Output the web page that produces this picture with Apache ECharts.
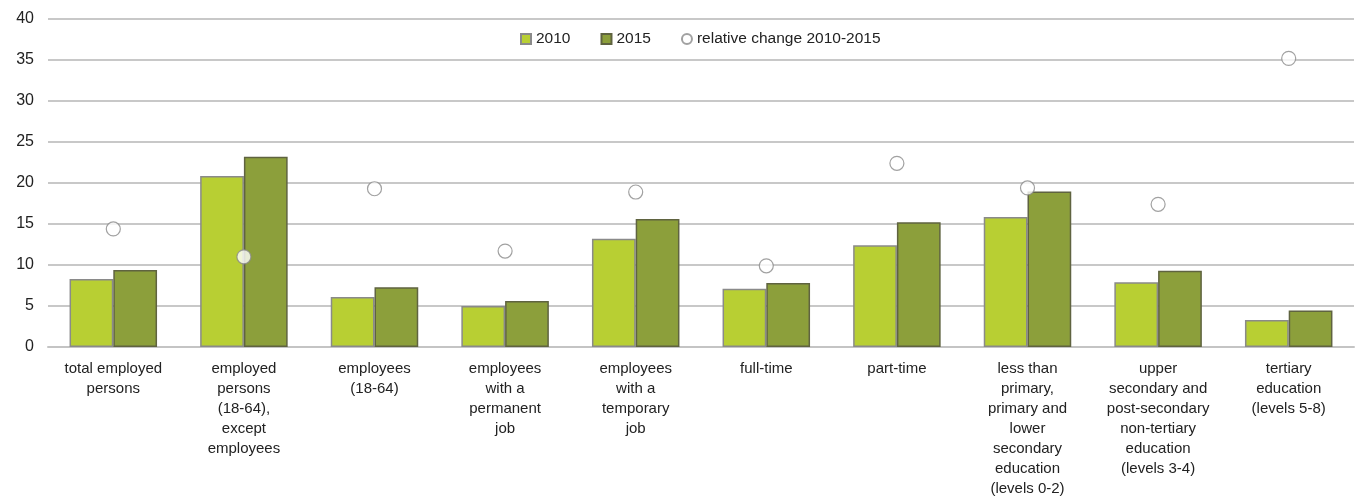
<!DOCTYPE html>
<html>
<head>
<meta charset="utf-8">
<script src="https://cdn.jsdelivr.net/npm/echarts@6/dist/echarts.min.js"></script>
<style>
  html, body { margin: 0; padding: 0; background: #fff; }
  #chart { width: 1357px; height: 497px; }
</style>
</head>
<body>
<div id="chart"></div>
<script>
// categories and values
var categories = [
    'total employed\npersons',
    'employed\npersons\n(18-64),\nexcept\nemployees',
    'employees\n(18-64)',
    'employees\nwith a\npermanent\njob',
    'employees\nwith a\ntemporary\njob',
    'full-time',
    'part-time',
    'less than\nprimary,\nprimary and\nlower\nsecondary\neducation\n(levels 0-2)',
    'upper\nsecondary and\npost-secondary\nnon-tertiary\neducation\n(levels 3-4)',
    'tertiary\neducation\n(levels 5-8)'
];
var values2010 = [8.3, 20.85, 6.1, 5.0, 13.2, 7.1, 12.4, 15.85, 7.9, 3.3];
var values2015 = [9.4, 23.2, 7.3, 5.6, 15.6, 7.8, 15.2, 18.95, 9.3, 4.45];
var relChange = [14.4, 11.0, 19.3, 11.7, 18.9, 9.9, 22.4, 19.4, 17.4, 35.2];

var chart = echarts.init(document.getElementById('chart'));
var option = {
    animation: false,
    textStyle: { fontFamily: 'Liberation Sans, Arial, sans-serif' },
    legend: {
        top: 26,
        left: 515,
        itemGap: 30,
        itemWidth: 10,
        itemHeight: 10,
        textStyle: { fontSize: 15.5, color: '#222' },
        data: [
            { name: '2010', icon: 'rect' },
            { name: '2015', icon: 'rect' },
            { name: 'relative change 2010-2015', icon: 'circle' }
        ]
    },
    grid: { left: 48, right: 3, top: 19, bottom: 150, outerBoundsMode: 'none' },
    xAxis: {
        type: 'category',
        data: categories,
        axisTick: { show: false },
        axisLine: { lineStyle: { color: '#c4c4c4', width: 2 } },
        axisLabel: {
            interval: 0,
            fontSize: 15,
            lineHeight: 20,
            color: '#222',
            margin: 12
        }
    },
    yAxis: {
        type: 'value',
        min: 0,
        max: 40,
        interval: 5,
        axisLine: { show: false },
        axisTick: { show: false },
        axisLabel: { fontSize: 16, color: '#222', margin: 14 },
        splitLine: { lineStyle: { color: '#c8c8c8', width: 2 } }
    },
    series: [
        {
            name: '2010',
            type: 'bar',
            data: values2010,
            barGap: '0%',
            barCategoryGap: '33%',
            itemStyle: { color: '#b8cf33', borderColor: '#8a8a8a', borderWidth: 1.5 }
        },
        {
            name: '2015',
            type: 'bar',
            data: values2015,
            itemStyle: { color: '#8c9f3b', borderColor: '#5f6340', borderWidth: 1.5 }
        },
        {
            name: 'relative change 2010-2015',
            type: 'scatter',
            data: relChange,
            symbol: 'circle',
            symbolSize: 14,
            z: 5,
            itemStyle: { color: '#fff', borderColor: '#8a8a8a', borderWidth: 1.2 }
        }
    ]
};
chart.setOption(option);
</script>
</body>
</html>
